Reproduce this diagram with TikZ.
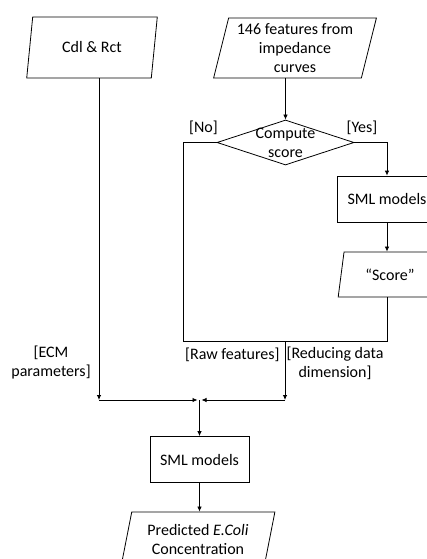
\documentclass[tikz,border=0pt]{standalone}
\usepackage{fontspec}
\setmainfont{Carlito}
\usetikzlibrary{shapes.geometric,arrows.meta}

\begin{document}
\begin{tikzpicture}[x=1pt, y=-1pt, line width=0.8pt,
    every node/.style={font=\fontsize{16}{19}\selectfont, inner sep=0pt},
    io/.style={draw, trapezium, trapezium left angle=75, trapezium right angle=105,
      trapezium stretches=true, align=center},
    proc/.style={draw, minimum width=99pt, minimum height=46pt},
    arr/.style={-{Latex[length=5pt,width=4.5pt]}}]
    \useasboundingbox (0,0) rectangle (426,559);
    % inputs
    \node[io, minimum width=131pt, minimum height=61pt] (cdl) at (92,47.5) {Cdl \& Rct};
    \node[io, minimum width=163pt, minimum height=60pt] (feat) at (295,48) {146 features from\\impedance\\curves};
    \node[draw, diamond, minimum width=137pt, minimum height=45pt,
      label={[align=center]center:Compute\\score}] (dia) at (285.5,142.5) {};
    % score branch
    \node[proc] (sml1) at (387,199) {SML models};
    \node[io, minimum width=104pt, minimum height=45pt] (score) at (390,274.5) {“Score”};
    % final model
    \node[proc] (sml2) at (199.5,459.5) {SML models};
    \node[io, minimum width=154pt, minimum height=54pt] (pred) at (198,539) {Predicted \textit{E.Coli}\\Concentration};
    \coordinate (rawc) at (183,341);
    \coordinate (merge) at (285,341);
    \coordinate (jl) at (99,400);
    \coordinate (jr) at (285,400);
    \coordinate (jc) at (199.5,400);
    \draw[arr] (feat.south -| dia.north) -- (dia.north);
    \draw (dia.west) -| (rawc) -- (merge);
    \draw[arr] (dia.east) -| (sml1.north);
    \draw[arr] (sml1) -- (sml1 |- score.north);
    \draw (score.south -| sml1.south) |- (merge);
    \draw[arr] (cdl.south -| jl) -- (jl);
    \draw[arr] (merge) -- (jr);
    \draw[arr] (jl) -- ([xshift=-2pt]jc);
    \draw[arr] (jr) -- ([xshift=2pt]jc);
    \draw[arr] (jc) -- (sml2);
    \draw[arr] (sml2.south) -- (sml2.south |- pred.north);
    % labels
    \node (no) at (203.5,128) {[No]};
    \node (yes) at (362,128) {[Yes]};
    \node[align=center] (ecm) at (51,362.5) {[ECM\\parameters]};
    \node[anchor=east] (raw) at (280,355) {[Raw features]};
    \node[align=center] (red) at (335,363.5) {[Reducing data\\dimension]};
\end{tikzpicture}
\end{document}
